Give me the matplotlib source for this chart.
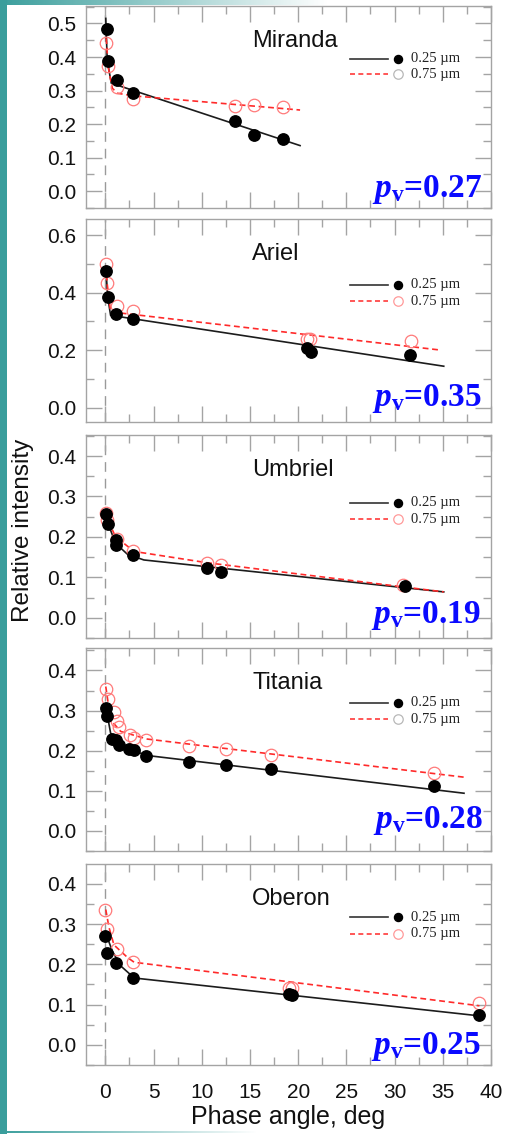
import numpy as np
import matplotlib
matplotlib.use("Agg")
import matplotlib.pyplot as plt
from matplotlib.ticker import MultipleLocator, FormatStrFormatter
from matplotlib.patches import Rectangle
from matplotlib.colors import to_rgb

plt.rcParams['font.family'] = ['Liberation Sans', 'DejaVu Sans']
plt.rcParams['mathtext.fontset'] = 'custom'
plt.rcParams['mathtext.it'] = 'Liberation Serif:italic:bold'
plt.rcParams['mathtext.rm'] = 'Liberation Serif:bold'
plt.rcParams['mathtext.bf'] = 'Liberation Serif:bold'

# ---------------- data ----------------
moons = ["Miranda", "Ariel", "Umbriel", "Titania", "Oberon"]
albedo = ["0.27", "0.35", "0.19", "0.28", "0.25"]
band_labels = ["0.25 \u00b5m", "0.75 \u00b5m"]

# Miranda
miranda_uv_phase = [0.14, 0.28, 1.2, 2.9, 13.4, 15.4, 18.4]
miranda_uv_int = [0.484, 0.389, 0.332, 0.294, 0.208, 0.169, 0.157]
miranda_vis_phase = [0.1, 0.28, 1.25, 2.9, 13.4, 15.4, 18.4]
miranda_vis_int = [0.443, 0.374, 0.310, 0.274, 0.254, 0.257, 0.251]
miranda_uv_fit_phase = [0.05, 0.2, 0.62, 20.2]
miranda_uv_fit_int = [0.515, 0.39, 0.322, 0.136]
miranda_vis_fit_phase = [0.1, 0.3, 0.73, 1.25, 3.0, 20.2]
miranda_vis_fit_int = [0.456, 0.371, 0.307, 0.292, 0.284, 0.242]

# Ariel
ariel_uv_phase = [0.07, 0.24, 1.14, 2.87, 20.9, 21.3, 31.6]
ariel_uv_int = [0.476, 0.385, 0.327, 0.309, 0.208, 0.193, 0.182]
ariel_vis_phase = [0.07, 0.2, 1.25, 2.84, 20.9, 21.2, 31.7]
ariel_vis_int = [0.499, 0.432, 0.353, 0.336, 0.240, 0.237, 0.232]
ariel_uv_fit_phase = [0.05, 0.25, 0.55, 35.1]
ariel_uv_fit_int = [0.49, 0.385, 0.321, 0.144]
ariel_vis_fit_phase = [0.05, 0.2, 0.55, 34.8]
ariel_vis_fit_int = [0.495, 0.43, 0.333, 0.200]

# Umbriel
umbriel_uv_phase = [0.07, 0.28, 1.14, 1.14, 2.9, 10.5, 12.0, 31.1]
umbriel_uv_int = [0.256, 0.231, 0.192, 0.181, 0.156, 0.124, 0.113, 0.078]
umbriel_vis_phase = [0.07, 0.2, 1.25, 2.9, 10.5, 12.0, 30.9]
umbriel_vis_int = [0.258, 0.243, 0.195, 0.165, 0.136, 0.130, 0.082]
umbriel_uv_fit_phase = [0.05, 0.3, 1.07, 2.3, 4.0, 35.1]
umbriel_uv_fit_int = [0.262, 0.232, 0.184, 0.157, 0.143, 0.064]
umbriel_vis_fit_phase = [0.05, 0.3, 1.07, 3.0, 10.6, 35.1]
umbriel_vis_fit_int = [0.262, 0.240, 0.200, 0.164, 0.136, 0.064]

# Titania
titania_uv_phase = [0.07, 0.2, 0.73, 1.14, 1.42, 2.5, 2.98, 4.26, 8.7, 12.5, 17.2, 34.1]
titania_uv_int = [0.306, 0.287, 0.229, 0.226, 0.215, 0.203, 0.201, 0.188, 0.173, 0.164, 0.155, 0.112]
titania_vis_phase = [0.07, 0.28, 0.9, 1.18, 1.4, 2.6, 2.98, 4.26, 8.7, 12.5, 17.2, 34.1]
titania_vis_int = [0.354, 0.329, 0.296, 0.273, 0.259, 0.240, 0.232, 0.226, 0.211, 0.203, 0.190, 0.145]
titania_uv_fit_phase = [0.05, 0.55, 1.6, 4.36, 37.2]
titania_uv_fit_int = [0.310, 0.244, 0.211, 0.188, 0.094]
titania_vis_fit_phase = [0.05, 0.55, 1.6, 4.36, 37.2]
titania_vis_fit_int = [0.360, 0.277, 0.248, 0.229, 0.134]

# Oberon
oberon_uv_phase = [0.02, 0.14, 1.1, 2.84, 19.1, 19.4, 38.8]
oberon_uv_int = [0.270, 0.227, 0.202, 0.165, 0.126, 0.124, 0.074]
oberon_vis_phase = [0.02, 0.2, 1.18, 2.84, 19.0, 19.4, 38.8]
oberon_vis_int = [0.334, 0.288, 0.239, 0.205, 0.142, 0.140, 0.103]
oberon_uv_fit_phase = [0.05, 0.28, 0.73, 1.6, 3.0, 38.8]
oberon_uv_fit_int = [0.278, 0.262, 0.233, 0.196, 0.166, 0.072]
oberon_vis_fit_phase = [0.05, 0.38, 0.9, 2.3, 3.0, 38.8]
oberon_vis_fit_int = [0.336, 0.292, 0.248, 0.217, 0.205, 0.097]

uv_phase = [miranda_uv_phase, ariel_uv_phase, umbriel_uv_phase, titania_uv_phase, oberon_uv_phase]
uv_int = [miranda_uv_int, ariel_uv_int, umbriel_uv_int, titania_uv_int, oberon_uv_int]
vis_phase = [miranda_vis_phase, ariel_vis_phase, umbriel_vis_phase, titania_vis_phase, oberon_vis_phase]
vis_int = [miranda_vis_int, ariel_vis_int, umbriel_vis_int, titania_vis_int, oberon_vis_int]
uv_fit_phase = [miranda_uv_fit_phase, ariel_uv_fit_phase, umbriel_uv_fit_phase,
                titania_uv_fit_phase, oberon_uv_fit_phase]
uv_fit_int = [miranda_uv_fit_int, ariel_uv_fit_int, umbriel_uv_fit_int,
              titania_uv_fit_int, oberon_uv_fit_int]
vis_fit_phase = [miranda_vis_fit_phase, ariel_vis_fit_phase, umbriel_vis_fit_phase,
                 titania_vis_fit_phase, oberon_vis_fit_phase]
vis_fit_int = [miranda_vis_fit_int, ariel_vis_fit_int, umbriel_vis_fit_int,
               titania_vis_fit_int, oberon_vis_fit_int]

# ---------------- layout ----------------
W, H = 505, 1134
fig = plt.figure(figsize=(W / 100, H / 100), dpi=100)
fig.patch.set_facecolor("white")

TEAL = "#3a9e9c"

# decorative frame: left bar, top fading band, bottom fading rule
fig.patches.append(Rectangle((0, 0), 7 / W, 1, transform=fig.transFigure,
                             facecolor=TEAL, edgecolor="none", zorder=0))


def fading_band(rect, fade_end):
    bax = fig.add_axes(rect)
    bax.set_axis_off()
    n = 400
    xs = np.linspace(0, 1, n)
    alpha = np.clip(1 - xs / fade_end, 0, 1)
    img = np.zeros((1, n, 4))
    img[..., :3] = to_rgb(TEAL)
    img[..., 3] = alpha
    bax.imshow(img, aspect="auto", extent=(0, 1, 0, 1), interpolation="bilinear")


fading_band([0, 1 - 5 / H, 1, 5 / H], 0.65)
fading_band([0, 1 - 1133 / H, 0.6, 2 / H], 0.85)

# axes boxes in pixels: (top, bottom)
panel_px = [(6, 208), (219, 422), (435, 638), (648, 851), (864, 1065)]
left_px, right_px = 86, 491
ytops = [0.552, 0.656, 0.452, 0.456, 0.449]
ysteps = [0.1, 0.2, 0.1, 0.1, 0.1]
legend_rows = [(0.738, 0.663), (0.675, 0.596), (0.667, 0.585), (0.730, 0.649), (0.735, 0.652)]
legend_open_colors = ["#b8b8b8", "#ff9a9a", "#ff9a9a", "#b8b8b8", "#ff9a9a"]
pv_base = [0.056, 0.079, 0.072, 0.112, 0.055]
pv_right = [0.978, 0.978, 0.974, 0.979, 0.974]

GRAY = "#a4a4a4"
for i, name in enumerate(moons):
    top, bot = panel_px[i]
    ax = fig.add_axes([left_px / W, 1 - bot / H, (right_px - left_px) / W, (bot - top) / H])
    ax.set_xlim(-2, 40)
    ax.set_ylim(-0.05, ytops[i])

    ax.axvline(0, color="#9a9a9a", lw=1.0, ls=(0, (7, 5)), zorder=1)
    ax.plot(uv_fit_phase[i], uv_fit_int[i], color="#1c1c1c", lw=1.2, zorder=2)
    ax.plot(vis_fit_phase[i], vis_fit_int[i], color="#ff2a2a", lw=1.2,
            ls=(0, (3.5, 2.2)), zorder=2)
    ax.plot(vis_phase[i], vis_int[i], "o", mfc="none", mec="#ff7a7a",
            mew=0.9, ms=9.0, zorder=3)
    ax.plot(uv_phase[i], uv_int[i], "o", color="black", ms=8.2, zorder=4)

    # legend block
    r1, r2 = legend_rows[i]
    ax.plot([0.652, 0.746], [r1, r1], transform=ax.transAxes, color="#333333", lw=1.2)
    ax.plot([0.770], [r1], "o", transform=ax.transAxes, color="black", ms=5.8)
    ax.plot([0.652, 0.746], [r2, r2], transform=ax.transAxes, color="#ff3a3a", lw=1.2,
            ls=(0, (3, 2)))
    ax.plot([0.770], [r2], "o", transform=ax.transAxes, mfc="none",
            mec=legend_open_colors[i], mew=0.9, ms=6.8)
    for lab, ry in zip(band_labels, (r1, r2)):
        ax.text(0.803, ry, lab, transform=ax.transAxes, ha="left", va="center",
                fontsize=10.5, family=["Liberation Serif", "DejaVu Serif"], color="#222222")

    ax.text(0.41, 0.826, name, transform=ax.transAxes, ha="left", va="center",
            fontsize=17, color="#111111")
    ax.text(pv_right[i], pv_base[i], r"$\mathit{p}_{\mathrm{v}}$=" + albedo[i],
            transform=ax.transAxes, ha="right", va="baseline", fontsize=24,
            family="Liberation Serif", weight="bold", color="#0a0aff")

    ax.xaxis.set_major_locator(MultipleLocator(5))
    ax.xaxis.set_minor_locator(MultipleLocator(2.5))
    ax.yaxis.set_major_locator(MultipleLocator(ysteps[i]))
    ax.yaxis.set_minor_locator(MultipleLocator(ysteps[i] / 2))
    ax.yaxis.set_major_formatter(FormatStrFormatter("%.1f"))
    ax.tick_params(which="both", direction="in", top=True, right=True,
                   color=GRAY, width=1.0, labelsize=15, labelcolor="#111111")
    ax.tick_params(which="major", length=11.5)
    ax.tick_params(which="minor", length=5.8)
    ax.tick_params(axis="y", pad=7)
    ax.tick_params(axis="x", pad=13, labelbottom=(i == len(moons) - 1))
    for sp in ax.spines.values():
        sp.set_color(GRAY)
        sp.set_linewidth(1.0)

fig.text(0.0446, 0.5326, "Relative intensity", rotation=90, ha="center", va="center",
         fontsize=17.5, color="#111111")
fig.text(0.570, 1 - 1124 / H, "Phase angle, deg", ha="center", va="baseline",
         fontsize=18, color="#111111")

fig.savefig("out.png", dpi=100, facecolor="white")
